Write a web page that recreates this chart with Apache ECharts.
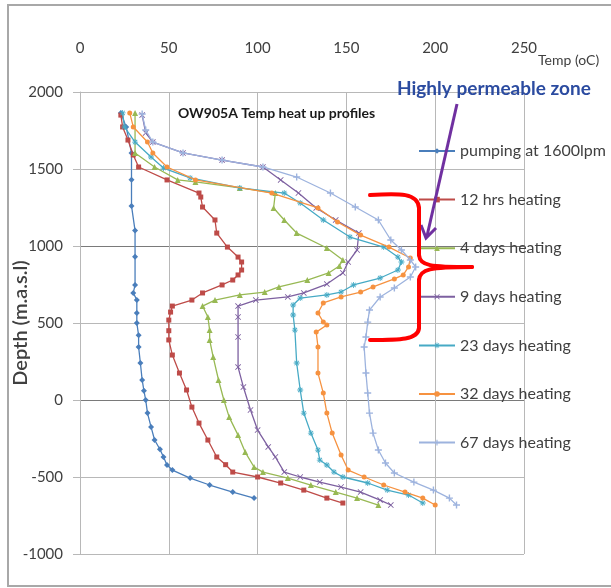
<!DOCTYPE html>
<html>
<head>
<meta charset="utf-8">
<script src="https://cdn.jsdelivr.net/npm/echarts@6/dist/echarts.min.js"></script>
<style>
html,body{margin:0;padding:0;background:#fff;}
#chart{width:611px;height:588px;}
</style>
</head>
<body>
<div id="chart"></div>
<script>
// ---- data: [temperature (oC), depth (m.a.s.l.)] ----
const seriesNames = ['pumping at 1600lpm','12 hrs heating','4 days heating','9 days heating','23 days heating','32 days heating','67 days heating'];
const xTicks = [0, 50, 100, 150, 200, 250];
const yTicks = [-1000, -500, 0, 500, 1000, 1500, 2000];

const pumping = [[23,1864],[26,1773],[29,1604],[29,1430],[29,1260],[31,1100],[31,930],[31,747],[30,695],[32,650],[32,565],[32,500],[33,420],[33,344],[34,240],[35,130],[36,60],[37,0],[38,-85],[40,-175],[42,-260],[45,-320],[47,-370],[49,-422],[52,-455],[62,-507],[73,-552],[86,-598],[98,-637]];
const hrs12 = [[23,1850],[24,1773],[27,1688],[30,1591],[33,1513],[49,1429],[67,1344],[68,1318],[69,1253],[76,1169],[77,1084],[83,993],[89,928],[91,896],[91,844],[89,812],[86,779],[80,747],[69,695],[63,649],[52,610],[51,571],[50,519],[50,450],[50,390],[52,292],[56,175],[60,65],[63,-46],[67,-150],[72,-260],[77,-370],[82,-420],[86,-468],[100,-500],[113,-539],[126,-585],[139,-637],[148,-669]];
const days4 = [[31,1864],[31,1604],[42,1513],[55,1429],[65,1416],[90,1377],[110,1344],[109,1247],[115,1169],[122,1084],[139,987],[148,909],[146,870],[140,825],[128,779],[112,734],[104,701],[90,682],[76,649],[69,610],[72,539],[73,454],[73,390],[75,279],[78,130],[81,0],[84,-111],[89,-228],[93,-338],[98,-435],[103,-468],[117,-507],[130,-552],[144,-598],[156,-637],[168,-682]];
const days9 = [[35,1850],[37,1734],[41,1675],[58,1604],[80,1558],[103,1513],[113,1429],[123,1344],[133,1247],[144,1169],[157,1084],[156,974],[151,896],[148,825],[139,753],[126,695],[117,669],[99,649],[89,610],[89,539],[89,409],[89,214],[92,84],[96,-65],[100,-195],[106,-305],[110,-370],[115,-468],[124,-500],[135,-533],[147,-565],[158,-598],[169,-650],[175,-682]];
const days23 = [[24,1864],[25,1773],[31,1675],[40,1578],[47,1506],[62,1442],[90,1377],[115,1344],[124,1279],[137,1169],[152,1058],[171,993],[179,928],[181,896],[179,844],[169,792],[154,747],[147,701],[139,682],[124,662],[120,617],[120,552],[121,454],[122,240],[124,65],[126,-85],[130,-215],[134,-325],[135,-390],[139,-422],[143,-468],[148,-500],[162,-539],[173,-585],[185,-617],[193,-669]];
const days32 = [[28,1864],[30,1773],[38,1675],[41,1604],[49,1513],[65,1429],[108,1344],[134,1247],[145,1156],[158,1071],[174,993],[186,922],[185,864],[182,812],[177,786],[165,734],[158,701],[147,669],[137,630],[134,565],[137,506],[139,487],[133,441],[134,344],[134,175],[137,45],[139,-85],[142,-215],[147,-357],[151,-455],[160,-500],[171,-552],[183,-598],[193,-637],[200,-682]];
const days67 = [[35,1857],[37,1753],[41,1675],[58,1604],[80,1558],[103,1513],[122,1448],[141,1344],[155,1253],[168,1169],[175,1039],[181,974],[186,909],[189,864],[186,799],[177,727],[169,669],[163,584],[162,506],[161,409],[160,344],[161,175],[162,45],[163,-85],[165,-215],[168,-325],[172,-409],[177,-474],[188,-533],[199,-585],[208,-637],[212,-682]];

const allData = [pumping, hrs12, days4, days9, days23, days32, days67];
const colors = ['#4A7EBB','#BE4B48','#98B954','#7D60A0','#46AAC5','#F69240','#9DB3DE'];
const plusPath = 'path://M4,0H6V4H10V6H6V10H4V6H0V4H4Z';
const xPath = 'path://M1,0L5,4L9,0L10,1L6,5L10,9L9,10L5,6L1,10L0,9L4,5L0,1Z';
const starPath = 'path://M4.3,0H5.7V3.3L8.1,0.9L9.1,1.9L6.7,4.3H10V5.7H6.7L9.1,8.1L8.1,9.1L5.7,6.7V10H4.3V6.7L1.9,9.1L0.9,8.1L3.3,5.7H0V4.3H3.3L0.9,1.9L1.9,0.9L4.3,3.3Z';
const symbols = ['diamond','rect','triangle',xPath,starPath,'circle',plusPath];
const symbolSizes = [6,5,6,6,6,5,7];

const FONT = 'Lato, "Liberation Sans", Arial, sans-serif';

const chart = echarts.init(document.getElementById('chart'), null, {renderer:'canvas'});

const series = allData.map((d, i) => ({
  name: seriesNames[i],
  type: 'line',
  data: d,
  symbol: symbols[i],
  symbolSize: symbolSizes[i],
  showSymbol: true,
  lineStyle: {color: colors[i], width: 1.3},
  itemStyle: {color: colors[i], borderWidth: 0},
  z: 3 + i,
  animation: false
}));

const RED = '#FF0000';
const braceStyle = {stroke: RED, lineWidth: 4, fill: 'none', lineCap: 'round'};

const option = {
  animation: false,
  backgroundColor: '#ffffff',
  textStyle: {fontFamily: FONT},
  grid: {left: 80, right: 87, top: 92, bottom: 34, containLabel: false, outerBoundsMode: 'none'},
  title: {
    text: 'OW905A Temp heat up profiles',
    left: 173, top: 101,
    textStyle: {fontFamily: FONT, fontSize: 14, fontWeight: 'bold', color: '#1a1a1a'}
  },
  legend: {
    orient: 'vertical',
    left: 413, top: 138,
    itemWidth: 36, itemHeight: 7, itemGap: 32.6,
    data: seriesNames,
    textStyle: {fontFamily: FONT, fontSize: 16, lineHeight: 14, color: '#404040'},
    selectedMode: false
  },
  xAxis: {
    type: 'value',
    position: 'top',
    min: xTicks[0], max: xTicks[xTicks.length-1], interval: 50,
    axisLine: {show: false},
    axisTick: {show: false},
    axisLabel: {fontFamily: FONT, fontSize: 15, color: '#404040', margin: 36, formatter: v => String(v)},
    splitLine: {show: true, lineStyle: {color: '#b8b8b8', width: 1}}
  },
  yAxis: {
    type: 'value',
    min: yTicks[0], max: yTicks[yTicks.length-1], interval: 500,
    name: 'Depth (m.a.s.l)',
    nameLocation: 'middle', nameGap: 49, nameRotate: 90, nameMoveOverlap: false,
    nameTextStyle: {fontFamily: FONT, fontSize: 20, fontWeight: 600, color: '#404040'},
    axisLine: {show: true, lineStyle: {color: '#b8b8b8'}},
    axisTick: {show: true, length: 7, lineStyle: {color: '#b8b8b8'}},
    axisLabel: {fontFamily: FONT, fontSize: 15, color: '#404040', margin: 17, formatter: v => String(v)},
    splitLine: {show: true, lineStyle: {color: ['#b8b8b8','#b8b8b8','#7a7a7a','#b8b8b8','#7a7a7a','#b8b8b8','#b8b8b8'], width: 1}}
  },
  graphic: [
    {type: 'rect', shape: {x: 8, y: 5, width: 620, height: 581}, style: {fill: 'none', stroke: '#a8a8a8', lineWidth: 2}, z: 100},
    {type: 'text', x: 538, y: 53, style: {text: 'Temp (oC)', font: '14px ' + FONT, fill: '#404040'}},
    {type: 'text', x: 397, y: 79, style: {text: 'Highly permeable zone', font: 'bold 19px ' + FONT, fill: '#2B4BA0'}, z: 50},
    {type: 'line', shape: {x1: 457, y1: 104, x2: 427, y2: 236}, style: {stroke: '#7030A0', lineWidth: 3}, z: 50},
    {type: 'polyline', shape: {points: [[421,225],[426,238],[436,228]]}, style: {stroke: '#7030A0', lineWidth: 3, fill: 'none'}, z: 50},
    {type: 'bezierCurve', shape: {x1: 370, y1: 195, cpx1: 400, cpy1: 193, cpx2: 418, cpy2: 193, x2: 419, y2: 208}, style: braceStyle, z: 50},
    {type: 'line', shape: {x1: 419, y1: 208, x2: 419, y2: 255}, style: braceStyle, z: 50},
    {type: 'bezierCurve', shape: {x1: 419, y1: 255, cpx1: 420, cpy1: 266, cpx2: 430, cpy2: 267, x2: 472, y2: 267}, style: braceStyle, z: 50},
    {type: 'bezierCurve', shape: {x1: 472, y1: 267, cpx1: 430, cpy1: 267, cpx2: 420, cpy2: 269, x2: 419, y2: 280}, style: braceStyle, z: 50},
    {type: 'line', shape: {x1: 419, y1: 280, x2: 419, y2: 328}, style: braceStyle, z: 50},
    {type: 'bezierCurve', shape: {x1: 419, y1: 328, cpx1: 418, cpy1: 340, cpx2: 400, cpy2: 340, x2: 370, y2: 340}, style: braceStyle, z: 50}
  ],
  series: series
};
chart.setOption(option);
</script>
</body>
</html>
